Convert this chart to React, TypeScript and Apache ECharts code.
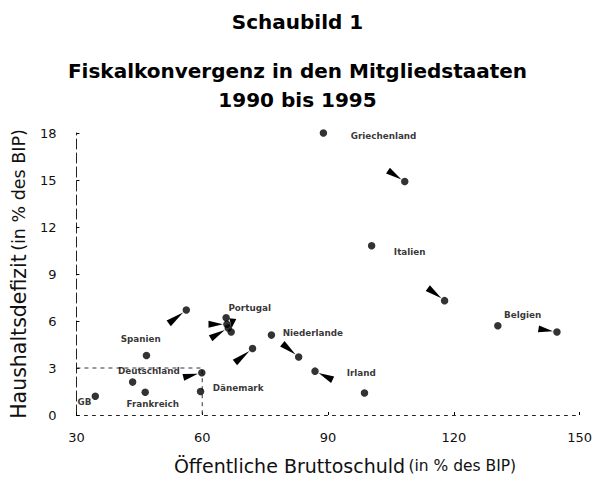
import React, { useEffect, useRef } from "react";
import * as echarts from "echarts";

// Countries, 1990 position (first dot), 1995 position (dot with tail), and the tail's far end
const countries = ["Griechenland", "Italien", "Belgien", "Irland", "Niederlande", "Portugal", "Spanien", "Deutschland", "Dänemark", "Frankreich", "GB"];
const debt1990 = [88.9, 100.4, 130.5, 98.7, 76.5, 65.7, 46.7, 43.4, 59.6, 46.4, 34.5];
const deficit1990 = [18.0, 10.8, 5.7, 1.4, 5.1, 6.2, 3.8, 2.1, 1.5, 1.45, 1.2];
const debt1995 = [108.3, 117.8, 144.6, 86.9, 83.0, 66.9, 56.2, 59.9, 72.0, 65.9, 66.2];
const deficit1995 = [14.9, 7.3, 5.3, 2.8, 3.7, 5.3, 6.7, 2.7, 4.25, 5.8, 5.55];
const tailDebt = [104.3, 113.8, 140.2, 91.1, 79.1, 67.3, 52.0, 55.5, 67.8, 61.5, 62.0];
const tailDeficit = [15.6, 8.1, 5.5, 2.25, 4.55, 6.15, 5.85, 2.4, 3.35, 5.8, 4.9];

// Maastricht reference lines (3 % deficit, 60 % debt)
const refDebt = [30, 60, 60];
const refDeficit = [3, 3, 0];

// Axis ticks
const xTicks = [30, 60, 90, 120, 150];
const yTicks = [0, 3, 6, 9, 12, 15, 18];

// Label offsets (style) relative to the 1990 dot
const labelOffsets: number[][] = [
  [31, 2], [26, 5], [10, -11], [-14, -21], [15, -3], [6, -11],
  [-22, -17], [-11, -12], [16, -4], [-15, 11], [-14, 5],
];

const FONT = "DejaVu Sans";

export default function App() {
  const ref = useRef<HTMLDivElement>(null);
  useEffect(() => {
    if (!ref.current) return;
    const chart = echarts.init(ref.current, undefined, { renderer: "svg" });
    const titleStyle = { fontFamily: FONT, fontWeight: "bold" as const, fontSize: 20, color: "#000" };
    chart.setOption({
      animation: false,
      backgroundColor: "#fff",
      title: [
        { text: "Schaubild 1", left: "center", top: 7, textStyle: titleStyle },
        { text: "Fiskalkonvergenz in den Mitgliedstaaten", left: "center", top: 56, textStyle: titleStyle },
        { text: "1990 bis 1995", left: "center", top: 85, textStyle: titleStyle },
      ],
      grid: { left: 65, right: 12, top: 133, bottom: 65 },
      xAxis: {
        type: "value",
        min: xTicks[0],
        max: xTicks[xTicks.length - 1],
        interval: 30,
        name: "{a|Öffentliche Bruttoschuld} {b|(in % des BIP)}",
        nameLocation: "middle",
        nameGap: 41,
        nameTextStyle: {
          padding: [0, 0, 0, 34],
          rich: {
            a: { fontFamily: FONT, fontSize: 19, color: "#111" },
            b: { fontFamily: FONT, fontSize: 15.5, color: "#111" },
          },
        },
        axisLine: { show: true, lineStyle: { color: "#222", width: 1, type: [3, 5] } },
        axisTick: { show: true, inside: true, length: 3, lineStyle: { color: "#000" } },
        axisLabel: { fontFamily: FONT, fontSize: 13, color: "#111", margin: 16 },
        splitLine: { show: false },
      },
      yAxis: {
        type: "value",
        min: yTicks[0],
        max: yTicks[yTicks.length - 1],
        interval: 3,
        name: "{a|Haushaltsdefizit} {b|(in % des BIP)}",
        nameLocation: "middle",
        nameGap: 38,
        nameTextStyle: {
          rich: {
            a: { fontFamily: FONT, fontSize: 20.5, color: "#111" },
            b: { fontFamily: FONT, fontSize: 17.5, color: "#111" },
          },
        },
        axisLine: { show: true, lineStyle: { color: "#222", width: 1, type: [10, 4] } },
        axisTick: { show: true, inside: true, length: 3, lineStyle: { color: "#000" } },
        axisLabel: { fontFamily: FONT, fontSize: 13, color: "#111", margin: 20 },
        splitLine: { show: false },
      },
      series: [
        {
          type: "line",
          data: refDebt.map((x, i) => [x, refDeficit[i]]),
          symbol: "none",
          lineStyle: { color: "#333", width: 1, type: [4, 4] },
          silent: true,
          z: 1,
        },
        {
          type: "custom",
          data: countries.map((_, i) => [tailDebt[i], tailDeficit[i], debt1995[i], deficit1995[i]]),
          renderItem: (params: any, api: any) => {
            const p0 = api.coord([api.value(0), api.value(1)]);
            const p1 = api.coord([api.value(2), api.value(3)]);
            const dx = p1[0] - p0[0];
            const dy = p1[1] - p0[1];
            const len = Math.hypot(dx, dy) || 1;
            const ux = dx / len, uy = dy / len;
            const nx = -uy, ny = ux;
            const w = 3.5;
            const tip = [p1[0] - ux * 4, p1[1] - uy * 4];
            return {
              type: "polygon",
              shape: {
                points: [
                  [p0[0] + nx * w, p0[1] + ny * w],
                  [p0[0] - nx * w, p0[1] - ny * w],
                  tip,
                ],
              },
              style: { fill: "#000" },
            };
          },
          z: 3,
        },
        {
          type: "scatter",
          symbol: "circle",
          symbolSize: 7.5,
          itemStyle: { color: "#000" },
          data: countries.map((_, i) => [debt1995[i], deficit1995[i]]),
          z: 4,
        },
        {
          type: "scatter",
          symbol: "circle",
          symbolSize: 7.5,
          itemStyle: { color: "#000" },
          data: countries.map((name, i) => ({
            name,
            value: [debt1990[i], deficit1990[i]],
            label: {
              show: true,
              formatter: name,
              position: labelOffsets[i],
              fontFamily: FONT,
              fontWeight: "bold",
              fontSize: 8.8,
              color: "#000",
            },
          })),
          z: 4,
        },
      ],
    });
    return () => chart.dispose();
  }, []);
  return <div ref={ref} style={{ position: "fixed", left: 0, top: 0, width: 595, height: 480 }} />;
}
